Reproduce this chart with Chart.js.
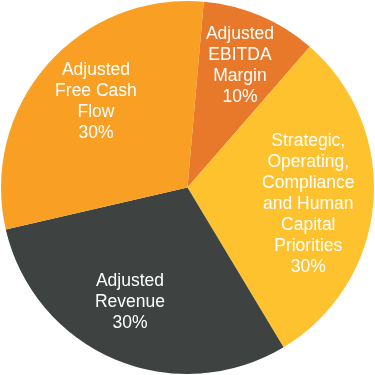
<!DOCTYPE html>
<html>
<head>
<meta charset="utf-8">
<script src="https://cdn.jsdelivr.net/npm/chart.js@4"></script>
<style>
  html, body { margin: 0; padding: 0; background: #fff; }
  #wrap { width: 375px; height: 375px; }
</style>
</head>
<body>
<div id="wrap"><canvas id="graph" width="375" height="375"></canvas></div>
<script>
var labels = [
  ["Adjusted", "EBITDA", "Margin"],
  ["Strategic,", "Operating,", "Compliance", "and Human", "Capital", "Priorities"],
  ["Adjusted", "Revenue"],
  ["Adjusted", "Free Cash", "Flow"]
];
var values = [10, 30, 30, 30];
var sliceColors = ["#E8792A", "#FEC22F", "#3E4241", "#F9A024"];

// white text inside each slice, placed from the arc's own geometry
var sliceLabels = {
  id: "sliceLabels",
  afterDatasetsDraw: function(chart, args, opts) {
    var ctx = chart.ctx;
    var meta = chart.getDatasetMeta(0);
    ctx.save();
    ctx.fillStyle = "#fff";
    ctx.font = "17.5px 'Liberation Sans', Arial, sans-serif";
    ctx.textAlign = "center";
    ctx.textBaseline = "middle";
    meta.data.forEach(function(arc, i) {
      var p = arc.getProps(["x", "y", "startAngle", "endAngle", "outerRadius"], true);
      var mid = (p.startAngle + p.endAngle) / 2;
      var r = p.outerRadius * opts.radius[i];
      var cx = p.x + Math.cos(mid) * r + opts.dx[i];
      var cy = p.y + Math.sin(mid) * r + opts.dy[i];
      var lines = labels[i].concat([values[i] + "%"]);
      var lh = 21;
      var top = cy - (lines.length - 1) * lh / 2;
      lines.forEach(function(t, k) {
        ctx.fillText(t, cx, top + k * lh);
      });
    });
    ctx.restore();
  }
};

new Chart("graph", {
  type: "pie",
  data: {
    labels: labels.map(function(l) { return l.join(" "); }),
    datasets: [{
      data: values,
      backgroundColor: sliceColors,
      borderWidth: 0
    }]
  },
  options: {
    responsive: false,
    animation: false,
    rotation: 5,
    layout: { padding: 1 },
    plugins: {
      legend: { display: false },
      tooltip: { enabled: false },
      sliceLabels: {
        radius: [0.72, 0.65, 0.68, 0.70],
        dx: [0, 0, -8, 7],
        dy: [2, 6, -2, 0]
      }
    }
  },
  plugins: [sliceLabels]
});
</script>
</body>
</html>
